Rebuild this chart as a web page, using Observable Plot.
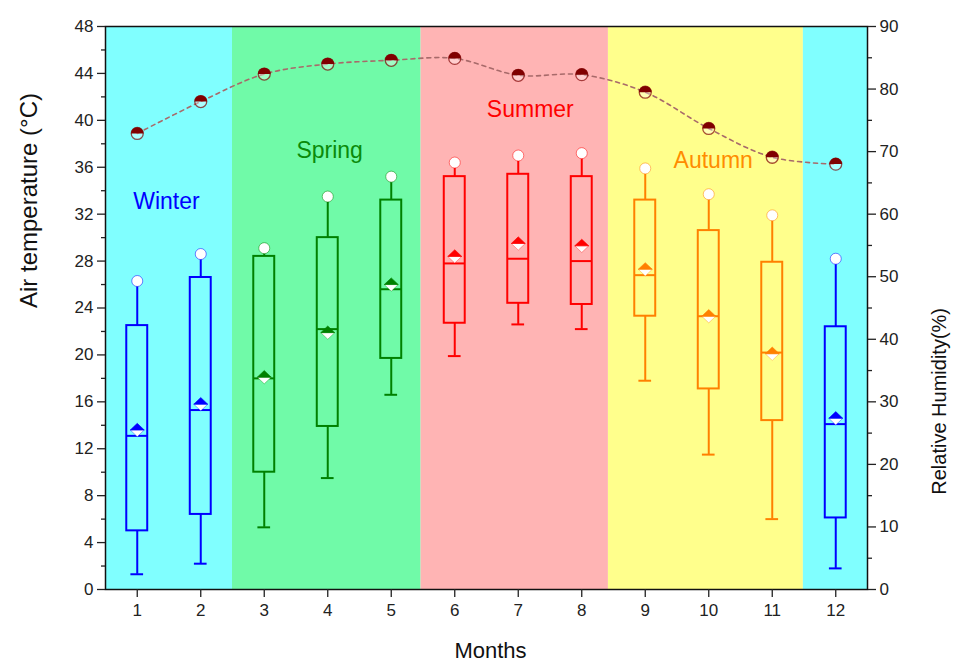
<!DOCTYPE html>
<html>
<head>
<meta charset="utf-8">
<script src="https://cdn.jsdelivr.net/npm/d3@7"></script>
<script src="https://cdn.jsdelivr.net/npm/@observablehq/plot@0.6"></script>
<style>
  html, body { margin: 0; padding: 0; background: white; }
  #chart { width: 956px; height: 669px; }
</style>
</head>
<body>
<div id="chart"></div>
<script>
// ---- data ----
const months = [1, 2, 3, 4, 5, 6, 7, 8, 9, 10, 11, 12];
const tempMin    = [1.3, 2.2, 5.3, 9.5, 16.6, 19.9, 22.6, 22.2, 17.8, 11.5, 6.0, 1.8];
const tempQ1     = [5.0, 6.4, 10.0, 13.9, 19.7, 22.7, 24.4, 24.3, 23.3, 17.1, 14.4, 6.1];
const tempMedian = [13.1, 15.3, 18.0, 22.2, 25.6, 27.8, 28.2, 28.0, 26.8, 23.3, 20.2, 14.1];
const tempMean   = [13.6, 15.8, 18.1, 21.9, 26.0, 28.4, 29.5, 29.3, 27.3, 23.3, 20.1, 14.6];
const tempQ3     = [22.5, 26.6, 28.4, 30.0, 33.2, 35.2, 35.4, 35.2, 33.2, 30.6, 27.9, 22.4];
const tempMax    = [26.3, 28.6, 29.1, 33.5, 35.2, 36.4, 37.0, 37.2, 35.9, 33.7, 31.9, 28.2];
const humidity   = [72.9, 78.0, 82.4, 84.0, 84.6, 84.9, 82.2, 82.3, 79.5, 73.7, 69.1, 68.0];
const monthSeason = ["Winter","Winter","Spring","Spring","Spring","Summer","Summer","Summer","Autumn","Autumn","Autumn","Winter"];
const seasonStart = [0.5, 2.5, 5.47, 8.42, 11.49];
const seasonEnd   = [2.5, 5.47, 8.42, 11.49, 12.5];
const seasonBand  = ["Winter", "Spring", "Summer", "Autumn", "Winter"];
const seasonLabels = ["Winter", "Spring", "Summer", "Autumn"];
const seasonLabelMonth = [1.46, 4.03, 7.19, 10.07];
const seasonLabelTemp  = [33.1, 37.4, 40.9, 36.6];
const tempTicks = d3.range(0, 49, 4);
const humTicks = d3.range(0, 91, 10);

// ---- styles ----
const bgColor = {Winter: "#80FFFF", Spring: "#70FAA8", Summer: "#FFB4B4", Autumn: "#FFFF8C"};
const lineColor = {Winter: "#0000FF", Spring: "#008000", Summer: "#FF0000", Autumn: "#FF8000"};
const labelColor = {Winter: "#0000FF", Spring: "#0A8A0A", Summer: "#FF0000", Autumn: "#FF8C00"};
const HMAX = 90, TMAX = 48;
const h2t = h => h * TMAX / HMAX;
const bw = 0.165, cap = 0.1;

const upTri = {draw(ctx, size) { const r = Math.sqrt(size / Math.PI); ctx.moveTo(-r, 0); ctx.lineTo(0, -r * 0.95); ctx.lineTo(r, 0); ctx.closePath(); }};
const downTri = {draw(ctx, size) { const r = Math.sqrt(size / Math.PI); ctx.moveTo(-r, 0); ctx.lineTo(0, r * 0.95); ctx.lineTo(r, 0); ctx.closePath(); }};
const topHalf = {draw(ctx, size) { const r = Math.sqrt(size / Math.PI); ctx.moveTo(-r, 0); ctx.arc(0, 0, r, Math.PI, 2 * Math.PI, false); ctx.closePath(); }};

const idx = months.map((m, i) => i);
const col = i => lineColor[monthSeason[i]];

const plot = Plot.plot({
  width: 956,
  height: 669,
  marginLeft: 105,
  marginRight: 89,
  marginTop: 26,
  marginBottom: 80,
  style: {fontFamily: "'Liberation Sans', Arial, sans-serif", background: "white", color: "#222"},
  x: {domain: [0.5, 12.5], axis: null},
  y: {domain: [0, TMAX], axis: null},
  marks: [
    // season backgrounds
    Plot.rect(seasonBand, {x1: (d, i) => seasonStart[i], x2: (d, i) => seasonEnd[i], y1: 0, y2: TMAX, fill: d => bgColor[d]}),
    // whiskers
    Plot.ruleX(idx, {x: i => months[i], y1: i => tempMin[i], y2: i => tempQ1[i], stroke: col, strokeWidth: 2}),
    Plot.ruleX(idx, {x: i => months[i], y1: i => tempQ3[i], y2: i => tempMax[i], stroke: col, strokeWidth: 2}),
    Plot.ruleY(idx, {y: i => tempMin[i], x1: i => months[i] - cap, x2: i => months[i] + cap, stroke: col, strokeWidth: 2}),
    // boxes
    Plot.rect(idx, {x1: i => months[i] - bw, x2: i => months[i] + bw, y1: i => tempQ1[i], y2: i => tempQ3[i], fill: "none", stroke: col, strokeWidth: 2}),
    Plot.ruleY(idx, {y: i => tempMedian[i], x1: i => months[i] - bw, x2: i => months[i] + bw, stroke: col, strokeWidth: 2}),
    // mean (half-filled diamond)
    Plot.dot(idx, {x: i => months[i], y: i => tempMean[i], symbol: downTri, r: 7, fill: "white", stroke: col, strokeWidth: 0.6, strokeOpacity: 0.6}),
    Plot.dot(idx, {x: i => months[i], y: i => tempMean[i], symbol: upTri, r: 7, fill: col, stroke: col, strokeWidth: 0.6}),
    // max circles
    Plot.dot(idx, {x: i => months[i], y: i => tempMax[i], r: 5.5, fill: "white", stroke: col, strokeWidth: 1, strokeOpacity: 0.5}),
    // humidity line
    Plot.line(idx, {x: i => months[i], y: i => h2t(humidity[i]), curve: "catmull-rom", stroke: "#a86a6a", strokeWidth: 1.6, strokeDasharray: "4,4"}),
    Plot.dot(idx, {x: i => months[i], y: i => h2t(humidity[i]), r: 6, fill: "white", fillOpacity: 0.35, stroke: "#800000", strokeWidth: 1.3, strokeOpacity: 0.7}),
    Plot.dot(idx, {x: i => months[i], y: i => h2t(humidity[i]), r: 6.3, symbol: topHalf, fill: "#800000"}),
    // season labels
    Plot.text(seasonLabels, {x: (d, i) => seasonLabelMonth[i], y: (d, i) => seasonLabelTemp[i], text: d => d, fill: d => labelColor[d], fontSize: 23}),
    // frame
    Plot.frame({stroke: "#111", strokeWidth: 1.5}),
    // axes
    Plot.axisX(months, {anchor: "bottom", tickSize: 8, tickPadding: 6, fontSize: 17, label: null, tickFormat: d => String(d), strokeWidth: 1.3}),
    Plot.axisY(tempTicks, {anchor: "left", tickSize: 8, tickPadding: 4, fontSize: 17, label: null, strokeWidth: 1.3}),
    Plot.axisY(d3.range(2, 48, 4), {anchor: "left", tickSize: 4, tickFormat: () => "", label: null, strokeWidth: 1.3}),
    Plot.axisY(humTicks.map(h2t), {anchor: "right", tickSize: 8, tickPadding: 4, fontSize: 17, label: null, tickFormat: d => String(Math.round(d * HMAX / TMAX)), strokeWidth: 1.3}),
    Plot.axisY(d3.range(5, 90, 10).map(h2t), {anchor: "right", tickSize: 4, tickFormat: () => "", label: null, strokeWidth: 1.3}),
    // axis titles
    Plot.text(["Air temperature (°C)"], {frameAnchor: "left", dx: -76, rotate: -90, fontSize: 24, fill: "#111", text: d => d}),
    Plot.text(["Relative Humidity(%)"], {frameAnchor: "right", dx: 72, rotate: -90, fontSize: 20, fill: "#111", text: d => d}),
    Plot.text(["Months"], {frameAnchor: "bottom", dy: 68, dx: 4, fontSize: 22, fill: "#111", text: d => d})
  ]
});
document.getElementById("chart").appendChild(plot);
</script>
</body>
</html>
